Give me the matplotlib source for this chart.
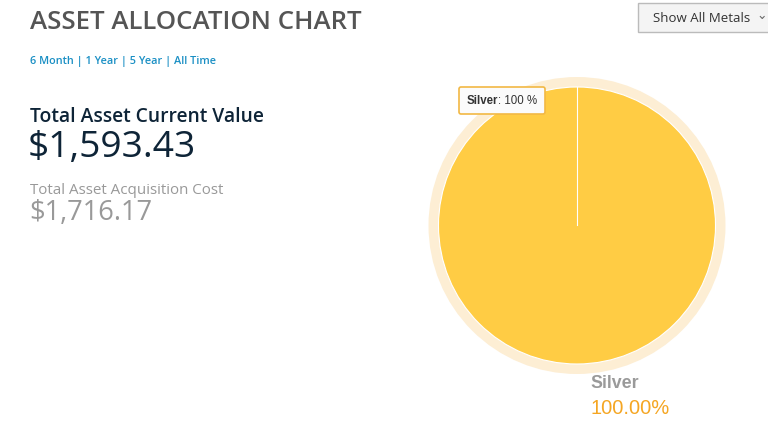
import matplotlib
matplotlib.use("Agg")
import matplotlib.pyplot as plt
from matplotlib.patches import Circle, FancyBboxPatch, Rectangle
import numpy as np

# ---- data ----
metals = ["Silver"]
shares = [100.0]
time_ranges = ["6 Month", "1 Year", "5 Year", "All Time"]
current_value = 1593.43
acquisition_cost = 1716.17
title = "ASSET ALLOCATION CHART"
dropdown_label = "Show All Metals"

# ---- style ----
W, H = 768, 444
pie_color = "#FFCC44"
halo_color = "#FDEED4"
fig = plt.figure(figsize=(W / 100, H / 100), dpi=100)
ax = fig.add_axes([0, 0, 1, 1])
ax.set_xlim(0, W)
ax.set_ylim(H, 0)
ax.set_aspect("equal")
ax.axis("off")

OS = "Open Sans"

ax.text(30, 22, title, fontsize=18.6, family=OS, weight=600, color="#555555",
        ha="left", va="center")

# time range links
ax.text(30, 61, " | ".join(time_ranges), fontsize=7.8, family=OS, weight=600,
        color="#1A8FC4", ha="left", va="center")

ax.text(30, 117, "Total Asset Current Value", fontsize=13.85, family=OS, weight=600,
        color="#0E2437", ha="left", va="center")
ax.text(28, 148, f"${current_value:,.2f}", fontsize=26.7, family=OS,
        color="#0E2437", ha="left", va="center")
ax.text(30, 190, "Total Asset Acquisition Cost", fontsize=10.9, family=OS,
        color="#999999", ha="left", va="center")
ax.text(29, 213, f"${acquisition_cost:,.2f}", fontsize=19.6, family=OS,
        color="#999999", ha="left", va="center")

# dropdown button
ax.add_patch(Rectangle((638, 3), 140, 29, facecolor="#F4F4F4", edgecolor="#BBBBBB", lw=1))
ax.text(653, 18, dropdown_label, fontsize=9.5, family=OS, color="#333333",
        ha="left", va="center")
ax.text(756, 15, "⌄", fontsize=9, family="DejaVu Sans", color="#666666",
        ha="left", va="center")

# pie
cx, cy, r = 577, 225.5, 138.5
ax.add_patch(Circle((cx, cy), r + 10, facecolor=halo_color, edgecolor="none"))
wedges, _ = ax.pie(shares, colors=[pie_color], startangle=90, counterclock=False,
                   center=(cx, cy), radius=r, frame=True,
                   wedgeprops=dict(linewidth=0))
ax.add_patch(Circle((cx, cy), r, facecolor="none", edgecolor="white", lw=0.8))
# slice boundary at start angle
ang = np.deg2rad(90)
ax.plot([cx, cx + r * np.cos(ang)], [cy, cy - r * np.sin(ang)], color="white", lw=0.8)
ax.set_xlim(0, W)
ax.set_ylim(H, 0)
ax.axis("off")

# tooltip
ax.add_patch(FancyBboxPatch((459, 87), 86, 27, boxstyle="round,pad=0,rounding_size=2",
                            facecolor="#FBFBFB", edgecolor="#F2B844", lw=1.2))
t1 = ax.text(467, 101, f"{metals[0]}", fontsize=8.3, family="Liberation Sans", weight="bold",
             color="#333333", ha="left", va="center")
fig.canvas.draw()
bb = t1.get_window_extent(fig.canvas.get_renderer())
x_end = ax.transData.inverted().transform((bb.x1, bb.y0))[0]
ax.text(x_end, 101, f": {shares[0]:.0f} %", fontsize=8.3, family="Liberation Sans",
        color="#333333", ha="left", va="center")

# legend label
ax.text(590, 383, metals[0], fontsize=12.8, family="Liberation Sans", weight="bold",
        color="#9A9A9A", ha="left", va="center")
ax.text(590, 409, f"{shares[0]:.2f}%", fontsize=14.5, family="Liberation Sans",
        color="#F5A623", ha="left", va="center")

fig.savefig("out.png", dpi=100)
